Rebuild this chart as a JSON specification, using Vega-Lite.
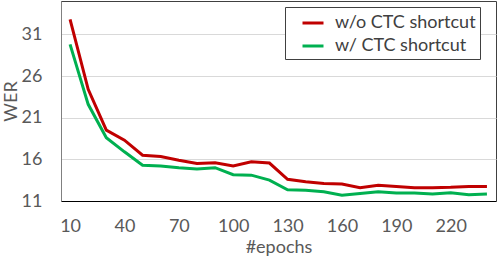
{
  "$schema": "https://vega.github.io/schema/vega-lite/v6.json",
  "width": 435,
  "height": 200,
  "autosize": {"type": "none"},
  "padding": {"left": 61, "top": 1, "right": 2, "bottom": 55},
  "background": "white",
  "config": {
    "view": {"stroke": "#404040", "strokeWidth": 1},
    "font": "Lato"
  },
  "data": {
    "values": [
      {"epoch": 10, "series": "w/o CTC shortcut", "wer": 32.8},
      {"epoch": 20, "series": "w/o CTC shortcut", "wer": 24.4},
      {"epoch": 30, "series": "w/o CTC shortcut", "wer": 19.5},
      {"epoch": 40, "series": "w/o CTC shortcut", "wer": 18.3},
      {"epoch": 50, "series": "w/o CTC shortcut", "wer": 16.5},
      {"epoch": 60, "series": "w/o CTC shortcut", "wer": 16.35},
      {"epoch": 70, "series": "w/o CTC shortcut", "wer": 15.9},
      {"epoch": 80, "series": "w/o CTC shortcut", "wer": 15.5},
      {"epoch": 90, "series": "w/o CTC shortcut", "wer": 15.6},
      {"epoch": 100, "series": "w/o CTC shortcut", "wer": 15.2},
      {"epoch": 110, "series": "w/o CTC shortcut", "wer": 15.7},
      {"epoch": 120, "series": "w/o CTC shortcut", "wer": 15.55},
      {"epoch": 130, "series": "w/o CTC shortcut", "wer": 13.6},
      {"epoch": 140, "series": "w/o CTC shortcut", "wer": 13.3},
      {"epoch": 150, "series": "w/o CTC shortcut", "wer": 13.1},
      {"epoch": 160, "series": "w/o CTC shortcut", "wer": 13.05},
      {"epoch": 170, "series": "w/o CTC shortcut", "wer": 12.6},
      {"epoch": 180, "series": "w/o CTC shortcut", "wer": 12.9},
      {"epoch": 190, "series": "w/o CTC shortcut", "wer": 12.75},
      {"epoch": 200, "series": "w/o CTC shortcut", "wer": 12.6},
      {"epoch": 210, "series": "w/o CTC shortcut", "wer": 12.6},
      {"epoch": 220, "series": "w/o CTC shortcut", "wer": 12.65},
      {"epoch": 230, "series": "w/o CTC shortcut", "wer": 12.75},
      {"epoch": 240, "series": "w/o CTC shortcut", "wer": 12.75},
      {"epoch": 10, "series": "w/ CTC shortcut", "wer": 29.8},
      {"epoch": 20, "series": "w/ CTC shortcut", "wer": 22.6},
      {"epoch": 30, "series": "w/ CTC shortcut", "wer": 18.6},
      {"epoch": 40, "series": "w/ CTC shortcut", "wer": 16.9},
      {"epoch": 50, "series": "w/ CTC shortcut", "wer": 15.3},
      {"epoch": 60, "series": "w/ CTC shortcut", "wer": 15.2},
      {"epoch": 70, "series": "w/ CTC shortcut", "wer": 15.0},
      {"epoch": 80, "series": "w/ CTC shortcut", "wer": 14.85},
      {"epoch": 90, "series": "w/ CTC shortcut", "wer": 15.0},
      {"epoch": 100, "series": "w/ CTC shortcut", "wer": 14.15},
      {"epoch": 110, "series": "w/ CTC shortcut", "wer": 14.1},
      {"epoch": 120, "series": "w/ CTC shortcut", "wer": 13.5},
      {"epoch": 130, "series": "w/ CTC shortcut", "wer": 12.35},
      {"epoch": 140, "series": "w/ CTC shortcut", "wer": 12.3},
      {"epoch": 150, "series": "w/ CTC shortcut", "wer": 12.1},
      {"epoch": 160, "series": "w/ CTC shortcut", "wer": 11.7},
      {"epoch": 170, "series": "w/ CTC shortcut", "wer": 11.9},
      {"epoch": 180, "series": "w/ CTC shortcut", "wer": 12.1},
      {"epoch": 190, "series": "w/ CTC shortcut", "wer": 11.95},
      {"epoch": 200, "series": "w/ CTC shortcut", "wer": 11.95},
      {"epoch": 210, "series": "w/ CTC shortcut", "wer": 11.85},
      {"epoch": 220, "series": "w/ CTC shortcut", "wer": 12.0},
      {"epoch": 230, "series": "w/ CTC shortcut", "wer": 11.75},
      {"epoch": 240, "series": "w/ CTC shortcut", "wer": 11.85}
    ]
  },
  "mark": {"type": "line", "strokeWidth": 3},
  "encoding": {
    "x": {
      "field": "epoch",
      "type": "quantitative",
      "scale": {"domain": [5, 245], "nice": false, "zero": false},
      "axis": {
        "title": "#epochs",
        "values": [10, 40, 70, 100, 130, 160, 190, 220],
        "grid": false,
        "ticks": false,
        "domainColor": "#000000",
        "domainWidth": 1,
        "labelFont": "Lato",
        "labelFontSize": 18,
        "labelColor": "#595959",
        "labelPadding": 16,
        "labelFlush": false,
        "titleFont": "Lato",
        "titleFontSize": 18,
        "titleFontWeight": "normal",
        "titleColor": "#595959",
        "titleY": 46,
        "titleBaseline": "middle"
      }
    },
    "y": {
      "field": "wer",
      "type": "quantitative",
      "scale": {"domain": [11, 35], "nice": false, "zero": false},
      "axis": {
        "title": "WER",
        "values": [11, 16, 21, 26, 31],
        "grid": true,
        "gridColor": "#D9D9D9",
        "gridWidth": 1,
        "ticks": false,
        "domainColor": "#808080",
        "domainWidth": 1,
        "labelFont": "Lato",
        "labelFontSize": 18,
        "labelColor": "#595959",
        "labelPadding": 19,
        "labelFlush": false,
        "titleFont": "Lato",
        "titleFontSize": 18,
        "titleFontWeight": "normal",
        "titleColor": "#595959",
        "titleX": -50,
        "titleY": 100,
        "titleAngle": -90,
        "titleAlign": "center",
        "titleBaseline": "middle"
      }
    },
    "color": {
      "field": "series",
      "type": "nominal",
      "scale": {
        "domain": ["w/o CTC shortcut", "w/ CTC shortcut"],
        "range": ["#C00000", "#00B050"]
      },
      "legend": {
        "title": null,
        "orient": "none",
        "legendX": 224,
        "legendY": 6,
        "fillColor": "white",
        "strokeColor": "#404040",
        "padding": 4,
        "rowPadding": 2,
        "symbolType": "stroke",
        "symbolSize": 441,
        "symbolStrokeWidth": 3,
        "symbolOffset": 12,
        "labelFont": "Lato",
        "labelFontSize": 18,
        "labelColor": "#404040",
        "labelOffset": 10,
        "labelLimit": 400
      }
    }
  }
}
